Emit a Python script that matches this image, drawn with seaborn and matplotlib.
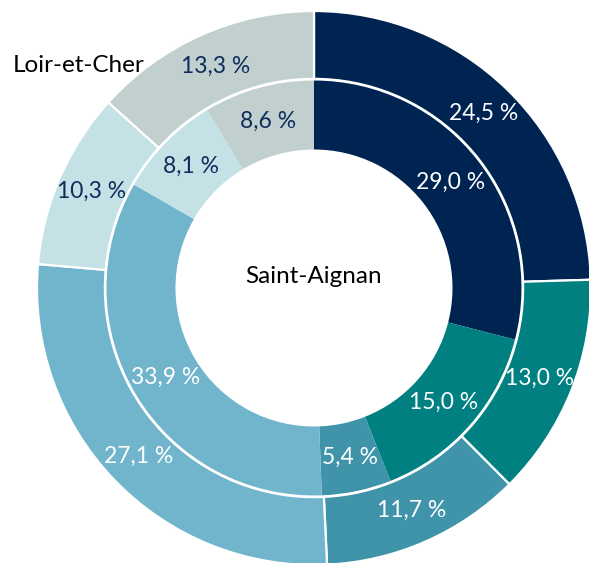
import numpy as np
import matplotlib
matplotlib.use("Agg")
import matplotlib.pyplot as plt
import seaborn as sns

# shares (%) per category, clockwise from the top
categories = ["A", "B", "C", "D", "E", "F"]
outer_label = "Loir-et-Cher"
inner_label = "Saint-Aignan"
outer_values = [24.5, 13.0, 11.7, 27.1, 10.3, 13.3]
inner_values = [29.0, 15.0, 5.4, 33.9, 8.1, 8.6]
outer_texts = ["24,5 %", "13,0 %", "11,7 %", "27,1 %", "10,3 %", "13,3 %"]
inner_texts = ["29,0 %", "15,0 %", "5,4 %", "33,9 %", "8,1 %", "8,6 %"]

palette = sns.color_palette(["#002452", "#008080", "#4094aa", "#70b5cc", "#c4e1e6", "#c1cfcf"])
navy = "#0f2c5c"
text_colors = ["white", "white", "white", "white", navy, navy]

sns.set_theme(style="white")
plt.rcParams["font.family"] = ["Lato", "DejaVu Sans"]

fig = plt.figure(figsize=(5.89, 5.63), dpi=100)
ax = fig.add_axes([0, 0, 1, 1])

R = 1.0
w_out = 0.245
r_in = 0.749
w_in = 0.249

outer_wedges, _ = ax.pie(outer_values, radius=R, startangle=90, counterclock=False,
                         colors=palette,
                         wedgeprops=dict(width=w_out, edgecolor="white", linewidth=1.6))
inner_wedges, _ = ax.pie(inner_values, radius=r_in, startangle=90, counterclock=False,
                         colors=palette,
                         wedgeprops=dict(width=w_in, edgecolor="none", linewidth=0))


def put_labels(wedges, texts, rmid):
    for wdg, txt, col in zip(wedges, texts, text_colors):
        ang = np.deg2rad((wdg.theta1 + wdg.theta2) / 2)
        ax.text(rmid * np.cos(ang), rmid * np.sin(ang), txt, ha="center", va="center",
                color=col, fontsize=16.5)


put_labels(outer_wedges, outer_texts, R - w_out / 2)
put_labels(inner_wedges, inner_texts, r_in - w_in / 2)

ax.text(0, 0.043, inner_label, ha="center", va="center", fontsize=17.5, color="black")
ax.text(-1.087, 0.805, outer_label, ha="left", va="center", fontsize=17.5, color="black")

ax.set_aspect("equal")
ax.set_xlim(-314 / 277, 275 / 277)
ax.set_ylim(-275 / 277, 288 / 277)
ax.axis("off")

fig.savefig("out.png", dpi=100, facecolor="white")
